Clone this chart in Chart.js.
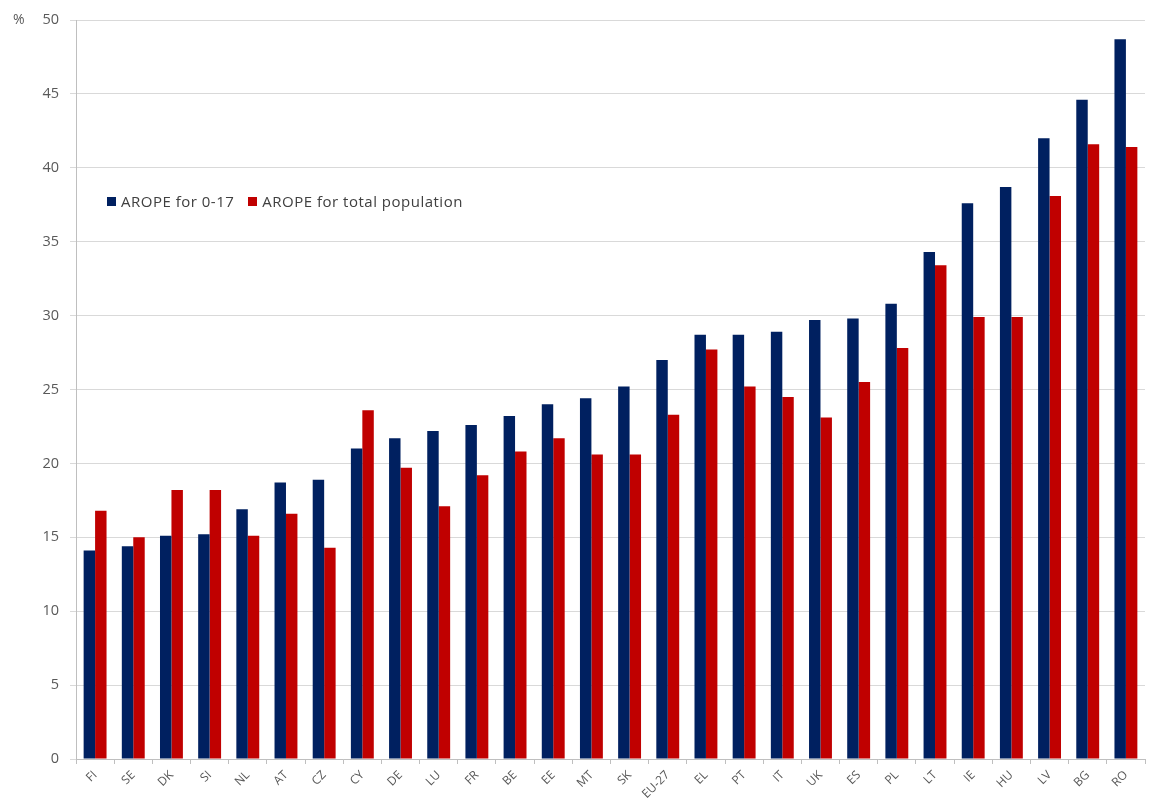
<!DOCTYPE html>
<html>
<head>
<meta charset="utf-8">
<script src="https://cdn.jsdelivr.net/npm/chart.js@4/dist/chart.umd.min.js"></script>
<style>
    html, body { margin: 0; padding: 0; background: #fff; }
    #wrap { position: relative; width: 1165px; height: 805px; }
    #legend { position: absolute; left: 107px; top: 191px; font: 15px "Open Sans", sans-serif; letter-spacing: 0.5px; color: #404040; white-space: nowrap; }
    #legend span.item { margin-right: 14px; }
    #legend span.box { display: inline-block; width: 9px; height: 9px; margin-right: 5px; vertical-align: 1px; }
</style>
</head>
<body>
<div id="wrap">
    <canvas id="aropeChart" width="1165" height="805"></canvas>
    <div id="legend"></div>
</div>
<script>
const countries = ['FI', 'SE', 'DK', 'SI', 'NL', 'AT', 'CZ', 'CY', 'DE', 'LU', 'FR', 'BE', 'EE', 'MT',
    'SK', 'EU-27', 'EL', 'PT', 'IT', 'UK', 'ES', 'PL', 'LT', 'IE', 'HU', 'LV', 'BG', 'RO'];
const aropeChildren = [14.1, 14.4, 15.1, 15.2, 16.9, 18.7, 18.9, 21.0, 21.7, 22.2, 22.6, 23.2, 24.0, 24.4,
    25.2, 27.0, 28.7, 28.7, 28.9, 29.7, 29.8, 30.8, 34.3, 37.6, 38.7, 42.0, 44.6, 48.7];
const aropeTotal = [16.8, 15.0, 18.2, 18.2, 15.1, 16.6, 14.3, 23.6, 19.7, 17.1, 19.2, 20.8, 21.7, 20.6,
    20.6, 23.3, 27.7, 25.2, 24.5, 23.1, 25.5, 27.8, 33.4, 29.9, 29.9, 38.1, 41.6, 41.4];
const yTicks = [0, 5, 10, 15, 20, 25, 30, 35, 40, 45, 50];

const navy = '#002060';
const red = '#c00000';
const axisGrey = '#bfbfbf';
const labelGrey = '#595959';

// small "%" unit label next to the top tick
const unitLabel = {
    id: 'unitLabel',
    afterDraw(chart) {
        const ctx = chart.ctx;
        ctx.save();
        ctx.font = '14px "Open Sans", sans-serif';
        ctx.fillStyle = labelGrey;
        ctx.textBaseline = 'middle';
        ctx.fillText('%', 13, chart.scales.y.getPixelForValue(yTicks[yTicks.length - 1]));
        ctx.restore();
    }
};

const ctx = document.getElementById('aropeChart').getContext('2d');
const aropeChart = new Chart(ctx, {
    type: 'bar',
    data: {
        labels: countries,
        datasets: [{
            label: 'AROPE for 0-17',
            data: aropeChildren,
            backgroundColor: navy,
            categoryPercentage: 0.6,
            barPercentage: 1.0
        }, {
            label: 'AROPE for total population',
            data: aropeTotal,
            backgroundColor: red,
            categoryPercentage: 0.6,
            barPercentage: 1.0
        }]
    },
    options: {
        responsive: false,
        animation: false,
        layout: { padding: { top: 20, right: 20, left: 0, bottom: 0 } },
        scales: {
            x: {
                grid: { drawOnChartArea: false, drawTicks: true, tickLength: 5, color: axisGrey },
                border: { display: true, color: axisGrey },
                ticks: {
                    minRotation: 45, maxRotation: 45, autoSkip: false,
                    color: labelGrey, font: { size: 12, family: '"Open Sans", sans-serif' }, padding: 4
                },
                afterFit: scale => { scale.height = 46; }
            },
            y: {
                min: yTicks[0], max: yTicks[yTicks.length - 1],
                afterBuildTicks: scale => { scale.ticks = yTicks.map(v => ({ value: v })); },
                grid: { color: '#d9d9d9', tickLength: 6 },
                border: { display: true, color: axisGrey },
                ticks: { color: labelGrey, font: { size: 14.5, family: '"Open Sans", sans-serif' }, padding: 11 },
                afterFit: scale => { scale.width = 76; }
            }
        },
        plugins: {
            legend: { display: false },
            tooltip: { enabled: false }
        }
    },
    plugins: [unitLabel]
});

// legend drawn as html, placed inside the plot area
const legendBox = document.getElementById('legend');
aropeChart.data.datasets.forEach(ds => {
    const item = document.createElement('span');
    item.className = 'item';
    const box = document.createElement('span');
    box.className = 'box';
    box.style.background = ds.backgroundColor;
    item.appendChild(box);
    item.appendChild(document.createTextNode(ds.label));
    legendBox.appendChild(item);
});
</script>
</body>
</html>
